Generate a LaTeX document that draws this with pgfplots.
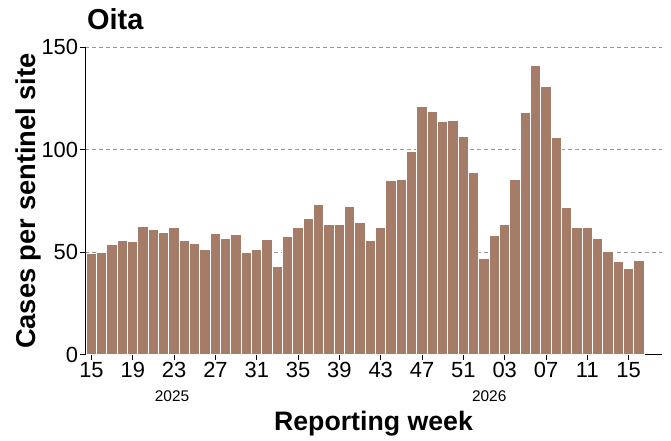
\documentclass[border=0pt]{standalone}
\usepackage{fontspec}
\setmainfont{Liberation Sans}
\usepackage{pgfplots}
\pgfplotsset{compat=1.18}
\definecolor{barbrown}{RGB}{164,124,103}
\definecolor{gridgray}{RGB}{150,150,150}

% weekly cases, 2025-W15 .. 2026-W16 (index 0..53)
\pgfplotstableread{
idx val
0 49.2
1 50.1
2 54.0
3 56.0
4 55.2
5 62.5
6 61.0
7 59.6
8 62.3
9 55.7
10 54.4
11 51.3
12 59.1
13 56.6
14 58.9
15 49.8
16 51.5
17 56.3
18 43.0
19 57.6
20 62.0
21 66.7
22 73.4
23 63.5
24 63.8
25 72.1
26 64.5
27 55.7
28 62.0
29 85.1
30 85.3
31 99.1
32 121.2
33 118.9
34 113.6
35 114.5
36 106.6
37 89.0
38 47.1
39 58.1
40 63.6
41 85.3
42 118.3
43 141.0
44 131.1
45 105.9
46 71.8
47 62.2
48 62.2
49 56.5
50 50.6
51 45.4
52 41.9
53 45.8
}\oita

\begin{document}
\begin{tikzpicture}
\useasboundingbox (-85.3bp,-86.2bp) rectangle (585.7bp,354.8bp);
\begin{axis}[
    scale only axis,
    width=576.4bp, height=307.5bp,
    xmin=-0.6, xmax=55.2,
    ymin=0, ymax=150,
    axis x line*=bottom, axis y line*=left,
    axis line style={black, line width=1.1bp, -},
    tick align=outside,
    major tick length=5bp,
    tick style={black, line width=1bp},
    xtick={0,4,...,52},
    xticklabels={15,19,23,27,31,35,39,43,47,51,03,07,11,15},
    ytick={0,50,100,150},
    ymajorgrids,
    grid style={gridgray, dash pattern=on 4bp off 3bp, line width=0.9bp},
    /pgf/number format/assume math mode=true,
    tick label style={font=\fontsize{22}{24}\selectfont},
    xticklabel style={inner sep=2bp},
    yticklabel style={inner sep=2bp},
    title={Oita},
    title style={font=\fontsize{29}{32}\selectfont\bfseries, at={(axis description cs:0,1)}, anchor=center, xshift=30bp, yshift=21.8bp},
    xlabel={Reporting week},
    xlabel style={font=\fontsize{26.8}{30}\selectfont\bfseries, at={(axis description cs:0.5,0)}, anchor=center, yshift=-69.2bp},
    ylabel={Cases per sentinel site},
    ylabel style={font=\fontsize{27.4}{30}\selectfont\bfseries, at={(axis description cs:0,0.5)}, anchor=center, yshift=57.3bp},
    clip=false,
]
\addplot[ybar, bar width=1, fill=barbrown, draw=white, line width=1bp] table[x=idx, y=val] {\oita};
\node[font=\fontsize{15.5}{18}\selectfont] at (axis cs:7.8,0) [yshift=-41.7bp] {2025};
\node[font=\fontsize{15.5}{18}\selectfont] at (axis cs:38.5,0) [yshift=-41.7bp] {2026};
\end{axis}
\end{tikzpicture}
\end{document}
